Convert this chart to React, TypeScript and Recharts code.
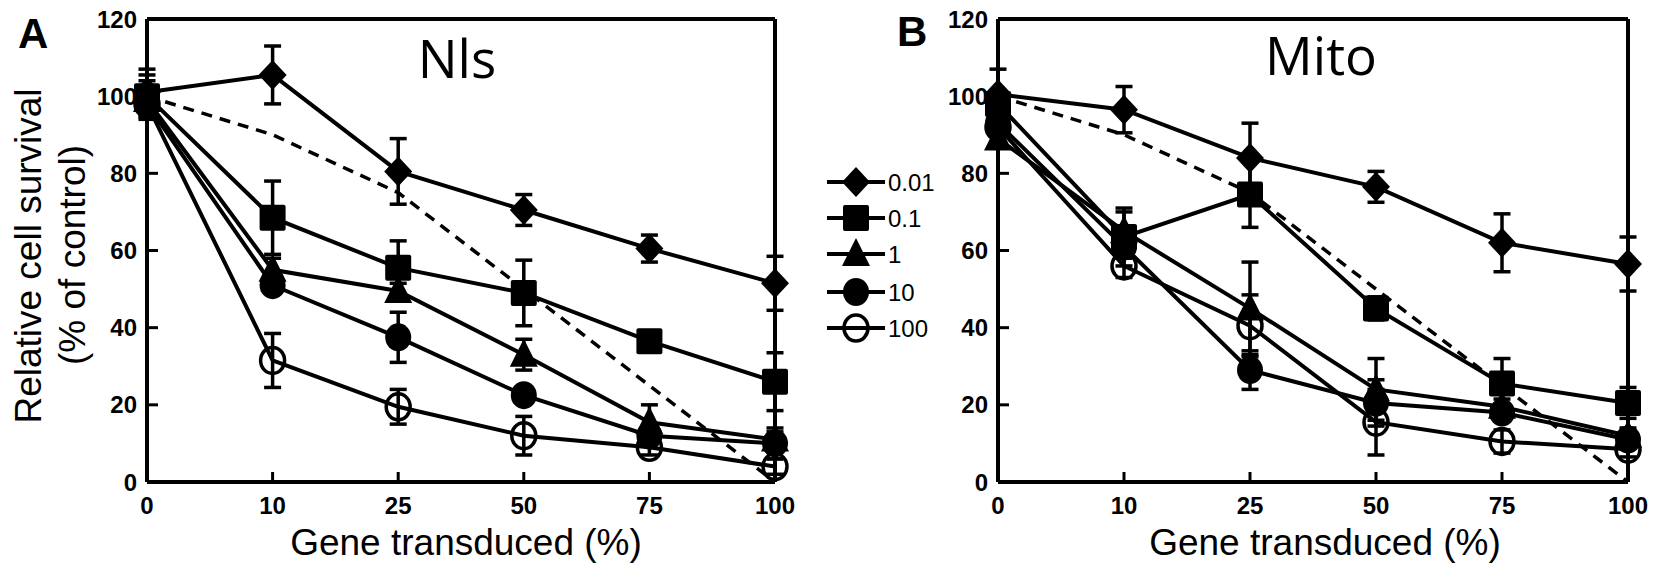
import React from "react";
import { LineChart, Line, XAxis, YAxis, ErrorBar, ReferenceLine } from "recharts";

const doses = ["0", "10", "25", "50", "75", "100"];
const yTicks = [0, 20, 40, 60, 80, 100, 120];
const legendLabels = ["0.01", "0.1", "1", "10", "100"];
const markerKinds = ["diamond", "square", "triangle", "circle", "ring"];

// dashed reference line (same in both panels)
const expected = [100, 90, 75, 50, 25, 0];

// panel A - Nls
const nls001 = [101, 105.5, 80.5, 70.5, 60.5, 51.5];
const nls001Err = [6, 7.5, 8.5, 4, 3.5, 7];
const nls01 = [100, 68.5, 55.5, 49, 36.5, 26];
const nls01Err = [5.5, 9.5, 7, 8.5, 2, 7.5];
const nls1 = [99, 55, 49.5, 33, 15.5, 11];
const nls1Err = [5, 3, 2, 4, 4.5, 2];
const nls10 = [98, 51, 37.5, 22.5, 12, 10];
const nls10Err = [2, 2, 6.5, 2, 2, 4];
const nls100 = [98, 31.5, 19.5, 12, 9, 4];
const nls100Err = [2, 7, 4.5, 5, 2, 2];

// panel B - Mito
const mito001 = [100.5, 96.5, 84, 76.5, 62, 56.5];
const mito001Err = [6.5, 6, 9, 4, 7.5, 7];
const mito01 = [98, 63.5, 74.5, 45, 25.5, 20.5];
const mito01Err = [3, 7.5, 8.5, 3, 6.5, 4];
const mito1 = [89, 65, 45, 24, 19.5, 12];
const mito1Err = [2, 5, 12, 8, 2, 2];
const mito10 = [93, 61, 29, 20.5, 18, 11];
const mito10Err = [2, 3, 5, 6, 2, 2];
const mito100 = [92, 56, 40.5, 15.5, 10.5, 8.5];
const mito100Err = [2, 3, 8, 8.5, 3, 2];

const FONT = "'Liberation Sans', Arial, sans-serif";

function buildRows(values: number[][], errors: number[][]) {
  return doses.map((d, i) => {
    const row: any = { dose: d, exp: expected[i] };
    values.forEach((v, k) => {
      row[`s${k}`] = v[i];
      row[`e${k}`] = errors[k][i];
    });
    return row;
  });
}

const nlsRows = buildRows(
  [nls001, nls01, nls1, nls10, nls100],
  [nls001Err, nls01Err, nls1Err, nls10Err, nls100Err]
);
const mitoRows = buildRows(
  [mito001, mito01, mito1, mito10, mito100],
  [mito001Err, mito01Err, mito1Err, mito10Err, mito100Err]
);

function Marker({ cx, cy, kind }: { cx: number; cy: number; kind: string }) {
  if (cx == null || cy == null) return null;
  switch (kind) {
    case "diamond":
      return <polygon points={`${cx},${cy - 15} ${cx + 14},${cy} ${cx},${cy + 15} ${cx - 14},${cy}`} fill="#000" />;
    case "square":
      return <rect x={cx - 13} y={cy - 13} width={26} height={26} rx={2} fill="#000" />;
    case "triangle":
      return <polygon points={`${cx},${cy - 16} ${cx + 14},${cy + 12} ${cx - 14},${cy + 12}`} fill="#000" />;
    case "circle":
      return <ellipse cx={cx} cy={cy} rx={13} ry={14} fill="#000" />;
    default:
      return <ellipse cx={cx} cy={cy} rx={12} ry={13} fill="none" stroke="#000" strokeWidth={3.5} />;
  }
}

function Panel({ left, width, rows }: { left: number; width: number; rows: any[] }) {
  return (
    <div style={{ position: "absolute", left, top: 0 }}>
      <LineChart width={width} height={574} data={rows} margin={{ top: 19, right: 25, bottom: 0, left: 0 }}>
        <XAxis
          dataKey="dose"
          height={92}
          interval={0}
          tickSize={-10}
          tickMargin={25}
          axisLine={{ stroke: "#000", strokeWidth: 4 }}
          tickLine={{ stroke: "#000", strokeWidth: 3 }}
          tick={{ fill: "#000", fontSize: 24, fontWeight: 700, fontFamily: FONT }}
        />
        <YAxis
          type="number"
          domain={[0, 120]}
          ticks={yTicks}
          width={147}
          tickSize={-11}
          tickMargin={21}
          axisLine={{ stroke: "#000", strokeWidth: 4 }}
          tickLine={{ stroke: "#000", strokeWidth: 3 }}
          tick={{ fill: "#000", fontSize: 24, fontWeight: 700, fontFamily: FONT }}
        />
        <ReferenceLine y={120} stroke="#000" strokeWidth={4} />
        <ReferenceLine x="100" stroke="#000" strokeWidth={4} />
        <Line
          dataKey="exp"
          type="linear"
          stroke="#000"
          strokeWidth={3.5}
          strokeDasharray="11 8"
          dot={false}
          activeDot={false}
          isAnimationActive={false}
        />
        {markerKinds.map((kind, k) => (
          <Line
            key={kind}
            dataKey={`s${k}`}
            type="linear"
            stroke="#000"
            strokeWidth={4}
            dot={(p: any) => <Marker key={`${kind}-${p.index}`} cx={p.cx} cy={p.cy} kind={kind} />}
            activeDot={false}
            isAnimationActive={false}
          >
            <ErrorBar dataKey={`e${k}`} width={8.5} strokeWidth={3.5} stroke="#000" direction="y" />
          </Line>
        ))}
      </LineChart>
    </div>
  );
}

function LegendMarker({ cx, cy, kind }: { cx: number; cy: number; kind: string }) {
  return (
    <g>
      <line x1={cx - 29} x2={cx + 29} y1={cy} y2={cy} stroke="#000" strokeWidth={4} />
      <Marker cx={cx} cy={cy} kind={kind} />
    </g>
  );
}

export default function App() {
  const legendY = [182, 218, 254, 292, 328];
  return (
    <div style={{ position: "absolute", left: 0, top: 0, width: 1654, height: 574, background: "#fff", overflow: "hidden" }}>
      <Panel left={0} width={800} rows={nlsRows} />
      <Panel left={851} width={802} rows={mitoRows} />
      <svg width={1654} height={574} style={{ position: "absolute", left: 0, top: 0, pointerEvents: "none" }}>
        <text x={18} y={48} fontFamily={FONT} fontWeight={700} fontSize={42}>A</text>
        <text x={897} y={46} fontFamily={FONT} fontWeight={700} fontSize={42}>B</text>
        <text transform="translate(41,256) rotate(-90)" textAnchor="middle" fontFamily={FONT} fontSize={37}>
          Relative cell survival
        </text>
        <text transform="translate(85,255) rotate(-90)" textAnchor="middle" fontFamily={FONT} fontSize={37}>
          (% of control)
        </text>
        <text x={466} y={555} textAnchor="middle" fontFamily={FONT} fontSize={37}>Gene transduced (%)</text>
        <text x={1325} y={555} textAnchor="middle" fontFamily={FONT} fontSize={37}>Gene transduced (%)</text>
        <text x={457} y={78} textAnchor="middle" fontFamily="'Open Sans', sans-serif" fontSize={53}>Nls</text>
        <text x={1321} y={75} textAnchor="middle" fontFamily="'Open Sans', sans-serif" fontSize={53}>Mito</text>
        {legendLabels.map((lab, k) => (
          <g key={lab}>
            <LegendMarker cx={856} cy={legendY[k]} kind={markerKinds[k]} />
            <text x={888} y={legendY[k] + 8.5} fontFamily={FONT} fontSize={24}>{lab}</text>
          </g>
        ))}
      </svg>
    </div>
  );
}
